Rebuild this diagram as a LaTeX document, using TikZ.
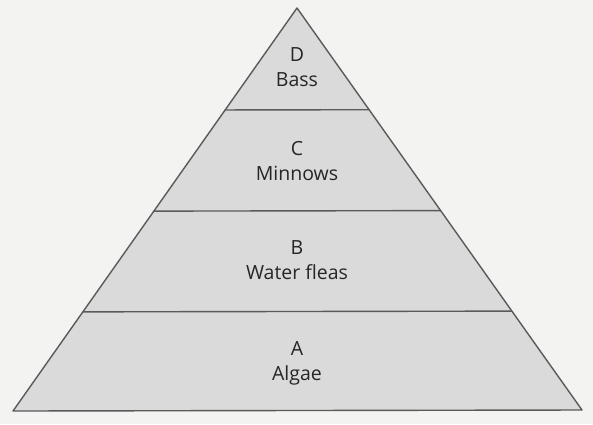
\documentclass[tikz,border=0pt]{standalone}
\usepackage{fontspec}
\setmainfont{Open Sans}
\usetikzlibrary{calc}
\definecolor{paper}{HTML}{F3F3F2}
\definecolor{layer}{HTML}{DADADA}
\definecolor{edge}{HTML}{5A5A5A}
\begin{document}
\begin{tikzpicture}[x=1pt,y=-1pt,line join=round,line cap=round,
    lbl/.style={align=center,text=black!85,font=\fontsize{19.5}{25}\selectfont}]
	\fill [paper] (0,0) rectangle (593,424);
	\coordinate (top) at (297,8);
	\coordinate (bl) at (13,411);
	\coordinate (br) at (582,410);
	\filldraw [fill=layer,draw=edge,line width=1.4pt] (top) -- (bl) -- (br) -- cycle;
	\foreach \t in {0.253,0.504,0.754}
		\draw [edge,line width=1.4pt] ($(top)!\t!(bl)$) -- ($(top)!\t!(br)$);
	\node [lbl] (bass) at (297,67) {D\\Bass};
	\node [lbl] (minnows) at (297,161) {C\\Minnows};
	\node [lbl] (fleas) at (297,260) {B\\Water fleas};
	\node [lbl] (algae) at (297,363) {A\\Algae};
\end{tikzpicture}
\end{document}
